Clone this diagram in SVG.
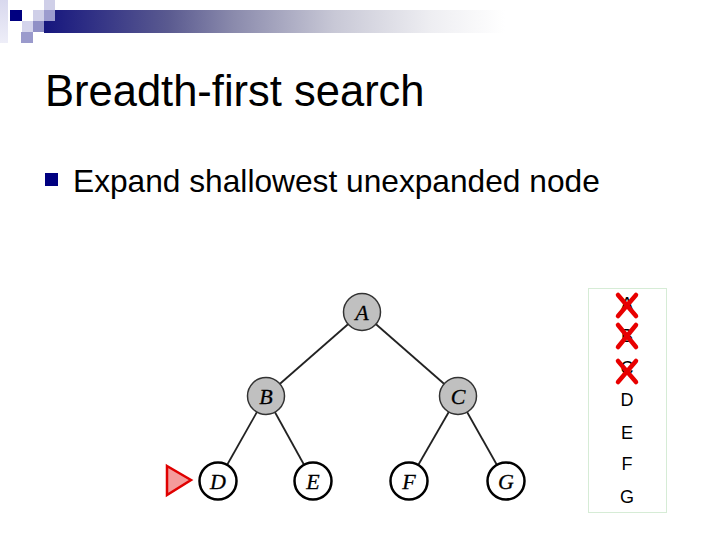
<svg xmlns="http://www.w3.org/2000/svg" width="720" height="540" viewBox="0 0 720 540">
<defs>
<linearGradient id="bar" gradientUnits="userSpaceOnUse" x1="44" y1="0" x2="505" y2="0">
<stop offset="0" stop-color="#16167e"/>
<stop offset="0.27" stop-color="#5a5a90"/>
<stop offset="0.41" stop-color="#8a8aac"/>
<stop offset="0.63" stop-color="#c8c8d6"/>
<stop offset="0.84" stop-color="#eeeef2"/>
<stop offset="1" stop-color="#ffffff"/>
</linearGradient>
<linearGradient id="strip" x1="0" y1="0" x2="0" y2="1">
<stop offset="0" stop-color="#d8d8ee"/>
<stop offset="1" stop-color="#eeeef8"/>
</linearGradient>
<style>
.title{font-family:"Liberation Sans",Arial,sans-serif;font-size:43.5px;fill:#000}
.bullet{font-family:"Liberation Sans",Arial,sans-serif;font-size:31.7px;fill:#000}
.q{font-family:"Liberation Sans",Arial,sans-serif;font-size:18px;fill:#000;text-anchor:middle}
.lbl{font-family:"Liberation Serif","Times New Roman",serif;font-style:italic;font-size:22px;fill:#000;text-anchor:middle;stroke:#000;stroke-width:0.3}
.exp{fill:#c0c0c0;stroke:#333;stroke-width:1.5}
.new{fill:#fff;stroke:#000;stroke-width:2.5}
.edge{stroke:#222;stroke-width:1.8}
.x{stroke:#e80000;stroke-width:4.5;stroke-linecap:round}
</style>
</defs>
<rect width="720" height="540" fill="#fff"/>
<g id="decoration">
<rect x="0" y="0" width="8" height="43" fill="url(#strip)"/>
<rect x="44" y="10" width="676" height="23" fill="url(#bar)"/>
<rect x="10" y="10" width="12" height="11" fill="#000080"/>
<rect x="44" y="0" width="11" height="10" fill="#cfcfe8"/>
<rect x="33" y="10" width="11" height="11" fill="#cfcfe8"/>
<rect x="44" y="10" width="11" height="11" fill="#9c9cce"/>
<rect x="22" y="21" width="11" height="11" fill="#d4d4ec"/>
<rect x="33" y="21" width="11" height="11" fill="#9090c6"/>
<rect x="21" y="32" width="12" height="11" fill="#9a9acc"/>
</g>
<text class="title" x="45" y="106">Breadth-first search</text>
<rect x="45" y="173" width="13" height="13" fill="#000080"/>
<text class="bullet" x="73" y="192">Expand shallowest unexpanded node</text>
<g id="connectors">
<line class="edge" x1="362" y1="312" x2="266" y2="396"/>
<line class="edge" x1="362" y1="312" x2="458" y2="396"/>
<line class="edge" x1="266" y1="396" x2="218" y2="481"/>
<line class="edge" x1="266" y1="396" x2="313" y2="481"/>
<line class="edge" x1="458" y1="396" x2="409" y2="481"/>
<line class="edge" x1="458" y1="396" x2="506" y2="481"/>
</g>
<g id="node-A"><circle class="exp" cx="362" cy="312" r="18.5"/><text class="lbl" x="362" y="319.5">A</text></g>
<g id="node-B"><circle class="exp" cx="266" cy="396" r="18.5"/><text class="lbl" x="266" y="403.5">B</text></g>
<g id="node-C"><circle class="exp" cx="458" cy="396" r="18.5"/><text class="lbl" x="458" y="403.5">C</text></g>
<g id="node-D"><circle class="new" cx="218" cy="481" r="18.5"/><text class="lbl" x="218" y="488.5">D</text></g>
<g id="node-E"><circle class="new" cx="313" cy="481" r="18.5"/><text class="lbl" x="313" y="488.5">E</text></g>
<g id="node-F"><circle class="new" cx="409" cy="481" r="18.5"/><text class="lbl" x="409" y="488.5">F</text></g>
<g id="node-G"><circle class="new" cx="506" cy="481" r="18.5"/><text class="lbl" x="506" y="488.5">G</text></g>
<g id="pointer"><polygon points="167,466 191,480 167,495" fill="#f49c9c" stroke="#e00000" stroke-width="2.5" stroke-linejoin="miter"/></g>
<g id="queue">
<rect x="588.5" y="288.5" width="78" height="224" fill="#fff" stroke="#d6ecd6" stroke-width="1"/>
<text class="q" x="627" y="310">A</text>
<text class="q" x="627" y="342">B</text>
<text class="q" x="627" y="374">C</text>
<text class="q" x="627" y="406">D</text>
<text class="q" x="627" y="439">E</text>
<text class="q" x="627" y="470">F</text>
<text class="q" x="627" y="503">G</text>
<path class="x" d="M618,295 L636,316 M636,295 L618,316"/>
<path class="x" d="M618,325 L636,347 M636,325 L618,347"/>
<path class="x" d="M618,361 L636,382 M636,361 L618,382"/>
</g>
</svg>
